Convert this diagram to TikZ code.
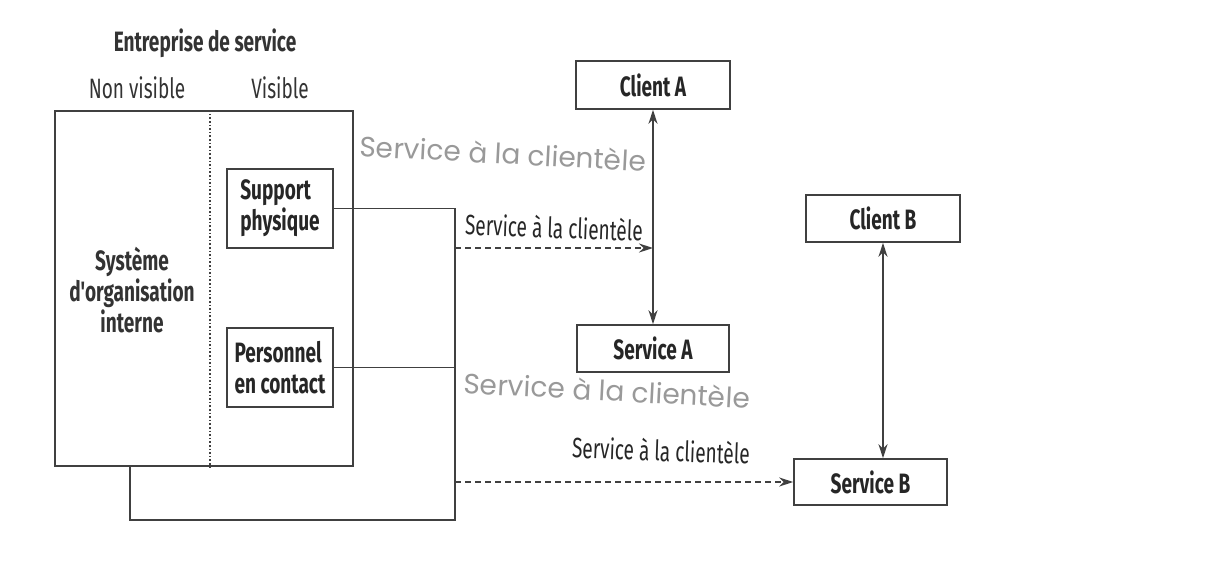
\documentclass[tikz,border=0pt]{standalone}
\usepackage{fontspec}
\newfontfamily\cond{Fira Sans}[FakeStretch=0.68]
\newfontfamily\geo{Poppins}
\usetikzlibrary{arrows.meta}
\tikzstyle{bx}=[draw=black!75,thick,font=\cond\bfseries\fontsize{14}{15.5}\selectfont,text=black!85,inner sep=2pt]
\tikzstyle{lbl}=[font=\cond\bfseries\fontsize{14}{15.5}\selectfont,text=black!80]
\tikzstyle{gry}=[font=\geo\fontsize{14}{16}\selectfont,text=black!40]
\tikzstyle{ln}=[draw=black!75,thick]

\begin{document}
\begin{tikzpicture}[x=0.5pt,y=-0.5pt,>={Stealth[length=7pt,width=4.5pt]}]
\useasboundingbox (0,0) rectangle (1216,574);
\node[lbl] (title) at (205,43) {Entreprise de service};
\node[lbl,font=\cond\fontsize{14}{15}\selectfont] (nonvis) at (137,88) {Non visible};
\node[lbl,font=\cond\fontsize{14}{15}\selectfont] (vis) at (280,88) {Visible};
\node[bx,minimum width=149pt,minimum height=177.5pt] (ent) at (204,288.5) {};
\node[lbl,align=center] (sys) at (132,290) {Système\\d'organisation\\interne};
\node[bx,align=left,minimum width=53pt,minimum height=39.5pt] (support) at (280,208.5) {Support\\physique};
\node[bx,align=left,minimum width=53pt,minimum height=39.5pt] (personnel) at (280,367.5) {Personnel\\en contact};
\node[bx,minimum width=77pt,minimum height=24pt] (clientA) at (653,85) {Client A};
\node[bx,minimum width=76pt,minimum height=23.5pt] (serviceA) at (653,348.5) {Service A};
\node[bx,minimum width=77pt,minimum height=23.5pt] (clientB) at (883,218.5) {Client B};
\node[bx,minimum width=76.5pt,minimum height=23pt] (serviceB) at (870.5,482) {Service B};
\node[gry,rotate=-3] (g1) at (503,153) {Service à la clientèle};
\node[gry,rotate=-3] (g2) at (607,390) {Service à la clientèle};
\node[lbl,font=\cond\fontsize{14}{15}\selectfont,text=black!85,rotate=-2] (s1) at (554,227) {Service à la clientèle};
\node[lbl,font=\cond\fontsize{14}{15}\selectfont,text=black!85,rotate=-2] (s2) at (661,450) {Service à la clientèle};
\coordinate (j1) at (455,210); \coordinate (j2) at (455,520); \coordinate (j3) at (130,520);
\coordinate (d1) at (455,248); \coordinate (d2) at (455,482);
\draw[ln,densely dotted] (ent.north -| 210,0) -- (ent.south -| 210,0);
\draw[ln] (support.east) -- (support.east -| j1) -- (j2) -- (j3) -- (j3 |- ent.south);
\draw[ln] (personnel.east) -- (personnel.east -| j1);
\draw[ln,densely dashed,->] (d1) -- (d1 -| clientA);
\draw[ln,densely dashed,->] (d2) -- (serviceB.west);
\draw[ln,<->] (clientA) -- (serviceA);
\draw[ln,<->] (clientB.south) -- (clientB.south |- serviceB.north);
\end{tikzpicture}
\end{document}
